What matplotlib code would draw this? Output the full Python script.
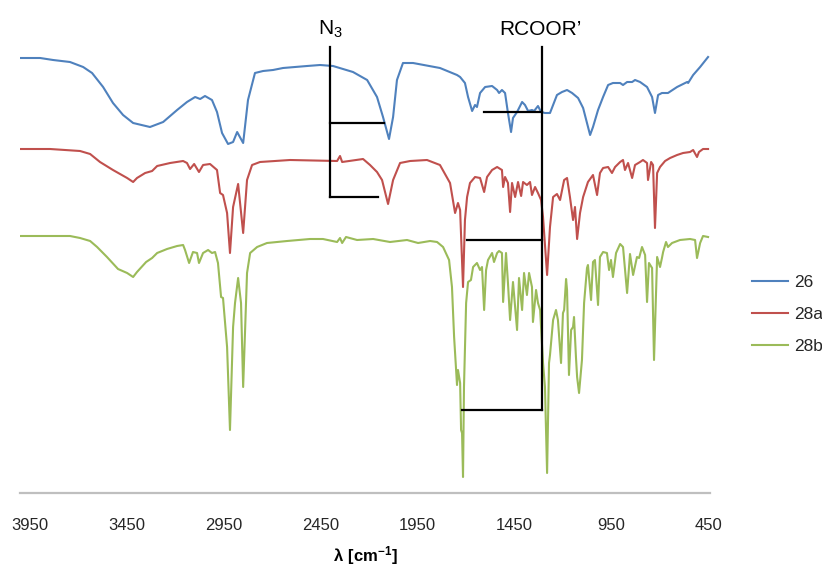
import matplotlib
matplotlib.use("Agg")
import matplotlib.pyplot as plt

# IR spectra (wavenumber in cm-1, transmittance in arbitrary offset units)
wn_26 = [4000, 3898, 3831, 3744, 3676, 3630, 3573, 3522, 3470, 3418, 3331, 3263,
         3191, 3140, 3098, 3072, 3047, 3011, 2985, 2959, 2928, 2902, 2881, 2850,
         2825, 2789, 2747, 2696, 2644, 2520, 2453, 2386, 2283, 2210, 2159, 2128,
         2097, 2076, 2056, 2025, 1973, 1834, 1746, 1730, 1705, 1689, 1668, 1653,
         1643, 1627, 1601, 1565, 1539, 1529, 1514, 1498, 1483, 1467, 1457, 1436,
         1410, 1395, 1379, 1359, 1348, 1328, 1312, 1292, 1266, 1250, 1230, 1204,
         1178, 1152, 1121, 1095, 1075, 1059, 1044, 1018, 992, 966, 941, 904, 889,
         868, 842, 827, 801, 765, 739, 724, 708, 688, 657, 610, 558, 553, 527,
         491, 450]
t_26 = [435, 435, 433, 431, 426, 420, 406, 390, 378, 370, 366, 371,
        383, 391, 396, 394, 397, 393, 381, 360, 349, 351, 361, 350,
        393, 420, 422, 423, 425, 427, 428, 427, 421, 413, 396, 376,
        354, 376, 413, 430, 430, 425, 418, 416, 410, 396, 382, 388,
        386, 400, 406, 407, 403, 400, 403, 400, 380, 361, 375, 381,
        391, 388, 382, 383, 382, 387, 381, 380, 380, 388, 398, 401,
        403, 400, 395, 385, 370, 358, 366, 383, 396, 408, 410, 410, 408,
        411, 411, 413, 411, 406, 396, 380, 398, 400, 400, 406, 411, 410, 418,
        426, 436]

wn_28a = [4000, 3847, 3692, 3640, 3589, 3522, 3449, 3418, 3398, 3356, 3320, 3294,
          3227, 3160, 3140, 3124, 3103, 3078, 3057, 3021, 2985, 2969, 2954, 2933,
          2918, 2902, 2876, 2850, 2830, 2804, 2763, 2608, 2365, 2350, 2339, 2231,
          2195, 2159, 2133, 2102, 2076, 2040, 1988, 1901, 1834, 1782, 1756, 1741,
          1730, 1715, 1705, 1694, 1679, 1653, 1627, 1606, 1591, 1565, 1539, 1514,
          1508, 1498, 1483, 1472, 1462, 1446, 1431, 1415, 1405, 1385, 1369, 1359,
          1343, 1328, 1312, 1302, 1281, 1266, 1250, 1230, 1214, 1193, 1178, 1163,
          1147, 1137, 1126, 1111, 1095, 1070, 1044, 1023, 1008, 992, 966, 946,
          930, 904, 889, 879, 863, 842, 827, 801, 786, 765, 760, 744, 734, 724,
          713, 698, 672, 646, 610, 579, 543, 527, 507, 497, 476, 450]
t_28a = [344, 344, 342, 339, 331, 323, 315, 311, 315, 320, 322, 327,
         330, 332, 330, 324, 329, 321, 328, 329, 323, 300, 298, 280,
         240, 286, 309, 260, 313, 328, 331, 333, 332, 337, 331, 334,
         328, 321, 313, 289, 313, 330, 332, 333, 328, 310, 280, 290,
         283, 206, 273, 296, 310, 316, 315, 301, 316, 323, 326, 323,
         306, 316, 310, 281, 310, 296, 311, 297, 311, 308, 311, 298,
         306, 300, 293, 276, 218, 266, 296, 299, 293, 313, 315, 296,
         273, 286, 254, 280, 296, 311, 318, 298, 320, 325, 326, 320,
         326, 331, 333, 323, 330, 315, 328, 331, 333, 330, 313, 331, 328, 265,
         320, 326, 332, 335, 338, 340, 341, 343, 336, 341, 344, 344]

wn_28b = [4000, 3847, 3744, 3692, 3640, 3604, 3553, 3496, 3449, 3418, 3398, 3351,
          3320, 3294, 3243, 3191, 3160, 3150, 3129, 3109, 3088, 3078, 3057, 3031,
          3011, 2995, 2980, 2964, 2954, 2933, 2918, 2902, 2892, 2876, 2861, 2850,
          2830, 2814, 2778, 2727, 2623, 2505, 2438, 2365, 2350, 2339, 2319, 2262,
          2179, 2092, 2004, 1947, 1885, 1849, 1818, 1787, 1772, 1761, 1746, 1741,
          1730, 1725, 1720, 1715, 1710, 1699, 1689, 1674, 1663, 1643, 1627, 1617,
          1606, 1596, 1586, 1565, 1555, 1539, 1529, 1514, 1508, 1493, 1483, 1472,
          1457, 1436, 1426, 1410, 1400, 1385, 1374, 1359, 1354, 1338, 1328, 1317,
          1302, 1292, 1281, 1271, 1266, 1250, 1235, 1225, 1209, 1199, 1193, 1183,
          1178, 1168, 1157, 1147, 1142, 1132, 1126, 1116, 1101, 1090, 1075, 1070,
          1054, 1044, 1034, 1018, 1008, 992, 972, 961, 951, 941, 925, 904, 889,
          868, 853, 837, 817, 806, 791, 775, 765, 755, 739, 729, 713, 698, 688,
          682, 667, 657, 636, 595, 543, 517, 507, 491, 476, 450]
t_28b = [257, 257, 257, 255, 252, 246, 236, 224, 220, 216, 221, 231,
         235, 240, 244, 247, 248, 243, 230, 241, 240, 230, 240, 243,
         240, 241, 230, 196, 195, 146, 63, 166, 190, 215, 190, 106,
         220, 240, 246, 250, 252, 254, 254, 251, 255, 250, 256, 253,
         254, 251, 253, 250, 252, 251, 246, 233, 206, 156, 108, 123,
         110, 63, 60, 16, 106, 190, 211, 213, 226, 230, 223, 226,
         183, 223, 233, 240, 231, 240, 242, 240, 191, 240, 210, 173,
         211, 163, 215, 183, 220, 198, 220, 206, 171, 203, 190, 183,
         130, 106, 20, 130, 138, 173, 183, 173, 130, 180, 183, 214,
         203, 118, 163, 166, 176, 136, 116, 100, 133, 190, 225, 228,
         193, 231, 233, 188, 236, 241, 240, 223, 233, 216, 240, 249, 246,
         200, 239, 218, 236, 235, 246, 238, 191, 230, 225, 133, 236, 226, 235,
         241, 251, 246, 250, 253, 254, 253, 235, 250, 257, 256]

series_labels = ["26", "28a", "28b"]
series_colors = ["#4F81BD", "#C0504D", "#9BBB59"]
tick_values = [3950, 3450, 2950, 2450, 1950, 1450, 950, 450]

# Assignment brackets: N3 (azide) and RCOOR' (ester)
n3_x = 2401
n3_top, n3_bottom = 446, 296
n3_arms = [(370, 2123), (296, 2154)]
ester_x = 1307
ester_top, ester_bottom = 446, 83
ester_arms = [(381, 1606), (253, 1694), (83, 1720)]
label_y = 458

plt.rcParams["font.family"] = ["Liberation Sans", "DejaVu Sans"]

fig = plt.figure(figsize=(8.22, 5.71), dpi=100)
ax = fig.add_axes([20 / 822, 78 / 571, 690 / 822, 473 / 571])

for wn, t, lab, col in zip([wn_26, wn_28a, wn_28b], [t_26, t_28a, t_28b],
                           series_labels, series_colors):
    ax.plot(wn, t, color=col, lw=1.5, label=lab, solid_joinstyle="round")

# bracket lines
ax.plot([n3_x, n3_x], [n3_top, n3_bottom], color="black", lw=1.6, clip_on=False)
for y, xe in n3_arms:
    ax.plot([n3_x, xe], [y, y], color="black", lw=1.6, clip_on=False)
ax.plot([ester_x, ester_x], [ester_top, ester_bottom], color="black", lw=1.6,
        clip_on=False)
for y, xs in ester_arms:
    ax.plot([xs, ester_x], [y, y], color="black", lw=1.6, clip_on=False)

ax.text(n3_x, label_y, r"$\mathregular{N_3}$", ha="center", va="baseline",
        fontsize=15, color="black")
ax.text(ester_x + 10, label_y, "RCOOR\u2019", ha="center", va="baseline",
        fontsize=15, color="black")

ax.set_xlim(4002, 440)
ax.set_ylim(0, 473)
ax.set_xticks(tick_values)
ax.set_xticklabels([str(v) for v in tick_values])
ax.set_yticks([])
for s in ["left", "right", "top"]:
    ax.spines[s].set_visible(False)
ax.spines["bottom"].set_color("#BFBFBF")
ax.spines["bottom"].set_linewidth(1.6)
ax.tick_params(axis="x", length=0, pad=18, labelsize=12, labelcolor="#262626")

ax.set_xlabel(r"$\mathregular{\lambda\ [cm^{-1}]}$", fontsize=12,
              fontweight="bold", labelpad=8)

fig.legend(loc="center left", bbox_to_anchor=(752 / 822, 1 - 314.5 / 571),
           frameon=False, fontsize=12.5, handlelength=2.1, handletextpad=0.3,
           labelspacing=0.95, borderpad=0, borderaxespad=0, labelcolor="#262626")

fig.savefig("out.png", dpi=100)
